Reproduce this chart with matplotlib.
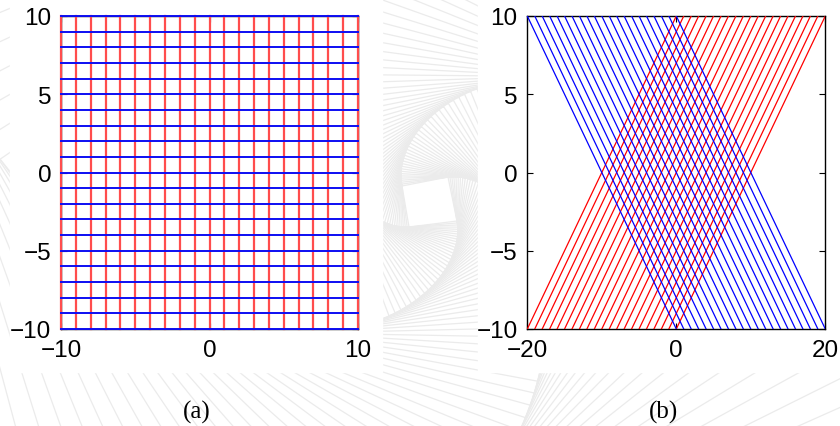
import numpy as np
import matplotlib.pyplot as plt
from matplotlib.patches import Rectangle

# line offsets used by both panels
offsets = list(range(-10, 11))
y_ends = [-10, 10]

a_xticks = [-10, 0, 10]
a_yticks = [-10, -5, 0, 5, 10]
b_xticks = [-20, 0, 20]
b_yticks = [-10, -5, 0, 5, 10]

fig = plt.figure(figsize=(8.4, 4.27), dpi=100)

# backdrop: whirl of nested squares
bg = fig.add_axes([0, 0, 1, 1])
bg.set_xlim(0, 840)
bg.set_ylim(427, 0)
bg.axis('off')
sq = np.array([[402, 187], [448, 178], [457, 222], [409, 228]], float)
ctr = sq.mean(axis=0)
t = 0.04
s = np.hypot(t, 1 - t)
ang = np.arctan2(t, 1 - t)
rot = np.array([[np.cos(ang), -np.sin(ang)], [np.sin(ang), np.cos(ang)]]) / s
pts = sq - ctr
for k in range(110):
    closed = np.vstack([pts, pts[:1]]) + ctr
    bg.plot(closed[:, 0], closed[:, 1], color='#ebebeb', lw=0.9)
    pts = pts @ rot.T
bg.add_patch(Rectangle((10, 0), 372, 373, color='white', zorder=5))
bg.add_patch(Rectangle((478, 0), 362, 373, color='white', zorder=5))

tick_font = {'family': 'Liberation Sans', 'size': 17.5}


def style(ax, xticks, yticks):
    ax.set_xticks(xticks)
    ax.set_yticks(yticks)
    ax.tick_params(direction='in', length=4, width=0.8, top=True, right=True,
                   pad=7)
    for lab in ax.get_xticklabels() + ax.get_yticklabels():
        lab.set_fontfamily(tick_font['family'])
        lab.set_fontsize(tick_font['size'])
    for sp in ax.spines.values():
        sp.set_linewidth(1.0)


# (a) square grid
ax1 = fig.add_axes([61 / 840, 1 - 330 / 427, 297 / 840, 313 / 427])
ax1.set_xlim(-10, 10)
ax1.set_ylim(-10, 10)
for c in offsets:
    ax1.plot([c, c], y_ends, color=(1, 0.3, 0.3), lw=1.6, zorder=3, clip_on=False)
for c in offsets:
    ax1.plot(y_ends, [c, c], color=(0.05, 0.05, 0.95), lw=1.4, zorder=4, clip_on=False)
style(ax1, a_xticks, a_yticks)

# (b) sheared grid
ax2 = fig.add_axes([527.3 / 840, 1 - 330 / 427, 298 / 840, 313 / 427])
ax2.set_xlim(-20, 20)
ax2.set_ylim(-10, 10)
for c in offsets:
    ax2.plot([c + y for y in y_ends], y_ends, color='red', lw=0.9, zorder=3)
for c in offsets:
    ax2.plot([c - y for y in y_ends], y_ends, color='blue', lw=0.9, zorder=4)
style(ax2, b_xticks, b_yticks)

fig.text(196.7 / 840, 1 - 412 / 427, '(a)', ha='center', va='center',
         family='Liberation Serif', fontsize=18)
fig.text(663 / 840, 1 - 412 / 427, '(b)', ha='center', va='center',
         family='Liberation Serif', fontsize=18)

fig.savefig('out.png', dpi=100)
